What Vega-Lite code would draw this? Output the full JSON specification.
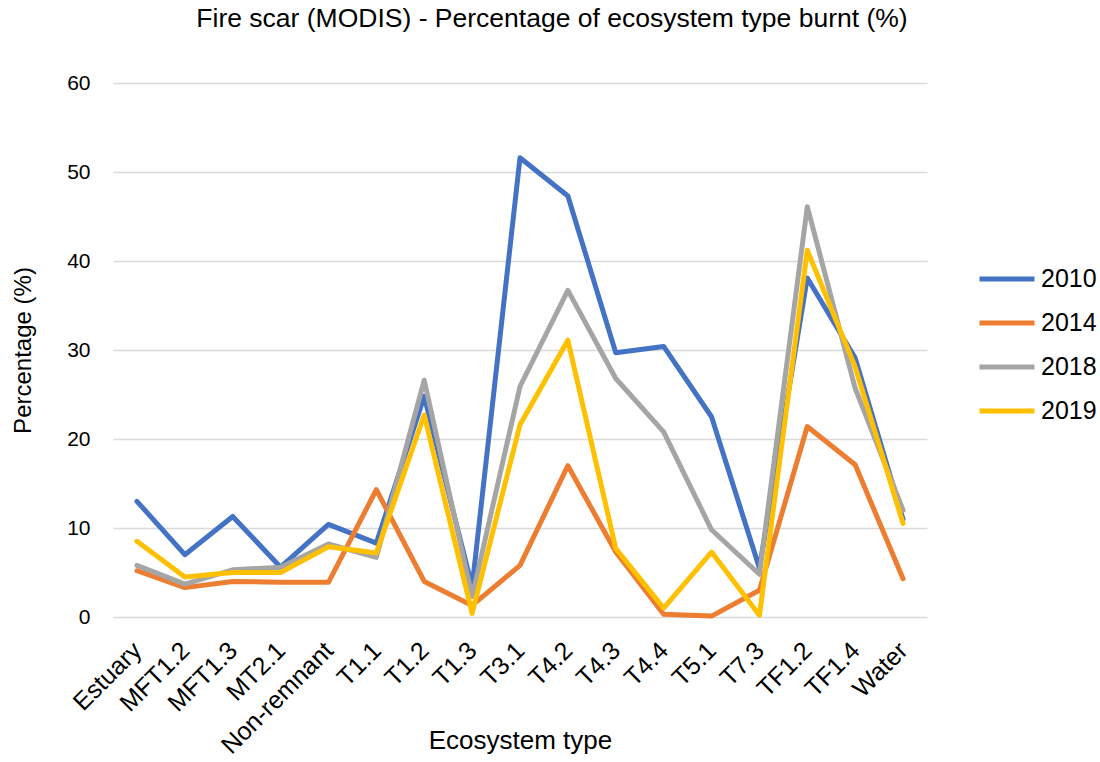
{
  "$schema": "https://vega.github.io/schema/vega-lite/v6.json",
  "autosize": {"type": "none"},
  "width": 814,
  "height": 534,
  "padding": {"left": 113, "top": 83, "right": 173, "bottom": 145},
  "background": "white",
  "title": {"text": "Fire scar (MODIS) - Percentage of ecosystem type burnt (%)", "font": "Liberation Sans", "fontSize": 26.5, "fontWeight": "normal", "color": "#000000", "anchor": "middle", "dx": 32, "offset": 40},
  "config": {"view": {"stroke": null}},
  "data": {"values": [
    {"eco": "Estuary", "year": "2010", "v": 13.0},
    {"eco": "MFT1.2", "year": "2010", "v": 7.0},
    {"eco": "MFT1.3", "year": "2010", "v": 11.3},
    {"eco": "MT2.1", "year": "2010", "v": 5.6},
    {"eco": "Non-remnant", "year": "2010", "v": 10.4},
    {"eco": "T1.1", "year": "2010", "v": 8.3},
    {"eco": "T1.2", "year": "2010", "v": 24.8},
    {"eco": "T1.3", "year": "2010", "v": 3.4},
    {"eco": "T3.1", "year": "2010", "v": 51.6},
    {"eco": "T4.2", "year": "2010", "v": 47.3},
    {"eco": "T4.3", "year": "2010", "v": 29.7},
    {"eco": "T4.4", "year": "2010", "v": 30.4},
    {"eco": "T5.1", "year": "2010", "v": 22.5},
    {"eco": "T7.3", "year": "2010", "v": 5.5},
    {"eco": "TF1.2", "year": "2010", "v": 38.1},
    {"eco": "TF1.4", "year": "2010", "v": 29.1},
    {"eco": "Water", "year": "2010", "v": 11.0},
    {"eco": "Estuary", "year": "2014", "v": 5.2},
    {"eco": "MFT1.2", "year": "2014", "v": 3.3},
    {"eco": "MFT1.3", "year": "2014", "v": 4.0},
    {"eco": "MT2.1", "year": "2014", "v": 3.9},
    {"eco": "Non-remnant", "year": "2014", "v": 3.9},
    {"eco": "T1.1", "year": "2014", "v": 14.3},
    {"eco": "T1.2", "year": "2014", "v": 4.0},
    {"eco": "T1.3", "year": "2014", "v": 1.3},
    {"eco": "T3.1", "year": "2014", "v": 5.8},
    {"eco": "T4.2", "year": "2014", "v": 17.0},
    {"eco": "T4.3", "year": "2014", "v": 7.3},
    {"eco": "T4.4", "year": "2014", "v": 0.3},
    {"eco": "T5.1", "year": "2014", "v": 0.1},
    {"eco": "T7.3", "year": "2014", "v": 3.0},
    {"eco": "TF1.2", "year": "2014", "v": 21.4},
    {"eco": "TF1.4", "year": "2014", "v": 17.1},
    {"eco": "Water", "year": "2014", "v": 4.3},
    {"eco": "Estuary", "year": "2018", "v": 5.8},
    {"eco": "MFT1.2", "year": "2018", "v": 3.7},
    {"eco": "MFT1.3", "year": "2018", "v": 5.3},
    {"eco": "MT2.1", "year": "2018", "v": 5.6},
    {"eco": "Non-remnant", "year": "2018", "v": 8.2},
    {"eco": "T1.1", "year": "2018", "v": 6.7},
    {"eco": "T1.2", "year": "2018", "v": 26.6},
    {"eco": "T1.3", "year": "2018", "v": 2.3},
    {"eco": "T3.1", "year": "2018", "v": 25.9},
    {"eco": "T4.2", "year": "2018", "v": 36.7},
    {"eco": "T4.3", "year": "2018", "v": 26.8},
    {"eco": "T4.4", "year": "2018", "v": 20.8},
    {"eco": "T5.1", "year": "2018", "v": 9.8},
    {"eco": "T7.3", "year": "2018", "v": 4.8},
    {"eco": "TF1.2", "year": "2018", "v": 46.1},
    {"eco": "TF1.4", "year": "2018", "v": 25.7},
    {"eco": "Water", "year": "2018", "v": 12.0},
    {"eco": "Estuary", "year": "2019", "v": 8.5},
    {"eco": "MFT1.2", "year": "2019", "v": 4.5},
    {"eco": "MFT1.3", "year": "2019", "v": 5.0},
    {"eco": "MT2.1", "year": "2019", "v": 5.0},
    {"eco": "Non-remnant", "year": "2019", "v": 7.9},
    {"eco": "T1.1", "year": "2019", "v": 7.2},
    {"eco": "T1.2", "year": "2019", "v": 22.7},
    {"eco": "T1.3", "year": "2019", "v": 0.4},
    {"eco": "T3.1", "year": "2019", "v": 21.6},
    {"eco": "T4.2", "year": "2019", "v": 31.1},
    {"eco": "T4.3", "year": "2019", "v": 7.7},
    {"eco": "T4.4", "year": "2019", "v": 1.0},
    {"eco": "T5.1", "year": "2019", "v": 7.3},
    {"eco": "T7.3", "year": "2019", "v": 0.2},
    {"eco": "TF1.2", "year": "2019", "v": 41.2},
    {"eco": "TF1.4", "year": "2019", "v": 28.1},
    {"eco": "Water", "year": "2019", "v": 10.5}
  ]},
  "mark": {"type": "line", "strokeWidth": 5, "strokeJoin": "round", "strokeCap": "round"},
  "encoding": {
    "x": {"field": "eco", "type": "nominal", "sort": null, "title": "Ecosystem type",
      "axis": {"labelAngle": -45, "labelAlign": "right", "labelBaseline": "middle", "labelFont": "Liberation Sans", "labelFontSize": 25, "labelColor": "#000000", "domain": false, "ticks": false, "labelPadding": 29,
        "titleFont": "Liberation Sans", "titleFontSize": 26, "titleFontWeight": "normal", "titleColor": "#000000", "titleY": 131, "titleBaseline": "alphabetic"}},
    "y": {"field": "v", "type": "quantitative", "title": "Percentage (%)",
      "scale": {"domain": [0, 60], "nice": false},
      "axis": {"values": [0, 10, 20, 30, 40, 50, 60], "domain": false, "ticks": false, "gridColor": "#d9d9d9", "gridWidth": 1.5,
        "labelFont": "Liberation Sans", "labelFontSize": 21, "labelColor": "#000000", "labelPadding": 23,
        "titleFont": "Liberation Sans", "titleFontSize": 24, "titleFontWeight": "normal", "titleColor": "#000000", "titlePadding": 31}},
    "color": {"field": "year", "type": "nominal", "title": null,
      "scale": {"domain": ["2010", "2014", "2018", "2019"], "range": ["#4472C4", "#ED7D31", "#A5A5A5", "#FFC000"]},
      "legend": {"orient": "none", "legendX": 864, "legendY": 166, "padding": 0, "symbolType": "stroke", "symbolSize": 3025, "symbolStrokeWidth": 5,
        "labelFont": "Liberation Sans", "labelFontSize": 25, "labelColor": "#000000", "rowPadding": 1, "labelOffset": 4}}
  }
}
